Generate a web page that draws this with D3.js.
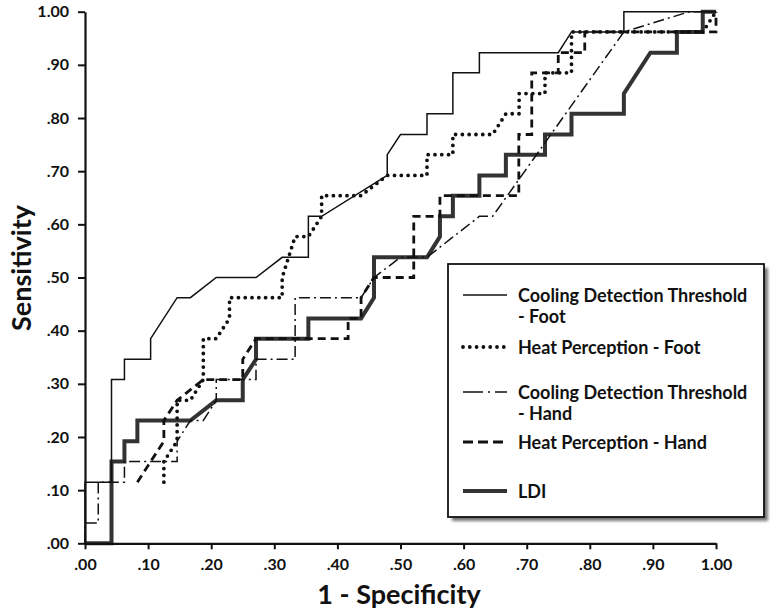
<!DOCTYPE html>
<html>
<head>
<meta charset="utf-8">
<script src="https://cdn.jsdelivr.net/npm/d3@7"></script>
<style>
  html, body { margin: 0; padding: 0; background: #fff; }
  svg { display: block; font-family: Lato, "Open Sans", sans-serif; font-weight: bold; }
</style>
</head>
<body>
<svg id="chart" width="776" height="616"></svg>
<script>
// ---- Data (1 - specificity, sensitivity) ----
const cdtFoot = [[0,0],[0,0.115],[0.042,0.115],[0.042,0.308],[0.0625,0.308],[0.0625,0.346],[0.104,0.346],[0.104,0.385],[0.146,0.462],[0.167,0.462],[0.208,0.5],[0.271,0.5],[0.3125,0.538],[0.354,0.538],[0.354,0.615],[0.375,0.615],[0.479,0.692],[0.479,0.731],[0.5,0.769],[0.542,0.769],[0.542,0.808],[0.583,0.808],[0.583,0.885],[0.625,0.885],[0.625,0.923],[0.75,0.923],[0.771,0.962],[0.854,0.962],[0.854,1],[1,1]];
const heatFoot = [[0.125,0.115],[0.125,0.154],[0.146,0.192],[0.146,0.269],[0.167,0.269],[0.1875,0.308],[0.1875,0.385],[0.208,0.385],[0.229,0.423],[0.229,0.462],[0.3125,0.462],[0.3125,0.5],[0.333,0.577],[0.354,0.577],[0.375,0.615],[0.375,0.654],[0.4375,0.654],[0.479,0.692],[0.542,0.692],[0.542,0.731],[0.583,0.731],[0.583,0.769],[0.646,0.769],[0.667,0.808],[0.688,0.808],[0.688,0.846],[0.729,0.846],[0.729,0.885],[0.771,0.885],[0.771,0.962],[0.979,0.962],[1,1]];
const cdtHand = [[0,0],[0,0.038],[0.021,0.038],[0.021,0.115],[0.0625,0.115],[0.0625,0.154],[0.146,0.154],[0.146,0.192],[0.167,0.231],[0.1875,0.231],[0.208,0.269],[0.208,0.308],[0.271,0.308],[0.271,0.346],[0.333,0.346],[0.333,0.462],[0.4375,0.462],[0.458,0.5],[0.5,0.538],[0.542,0.538],[0.625,0.615],[0.646,0.615],[0.854,0.962],[0.958,1],[1,1]];
const heatHand = [[0.083,0.115],[0.125,0.192],[0.125,0.231],[0.146,0.269],[0.1875,0.308],[0.25,0.308],[0.25,0.346],[0.271,0.385],[0.417,0.385],[0.417,0.423],[0.4375,0.423],[0.4375,0.462],[0.458,0.5],[0.521,0.5],[0.521,0.615],[0.5625,0.615],[0.5625,0.654],[0.6875,0.654],[0.6875,0.769],[0.708,0.769],[0.708,0.885],[0.75,0.885],[0.75,0.923],[0.792,0.923],[0.792,0.962],[1,0.962],[1,1]];
const ldi = [[0,0],[0.042,0],[0.042,0.154],[0.0625,0.154],[0.0625,0.192],[0.083,0.192],[0.083,0.231],[0.167,0.231],[0.208,0.269],[0.25,0.269],[0.25,0.308],[0.271,0.346],[0.271,0.385],[0.354,0.385],[0.354,0.423],[0.4375,0.423],[0.458,0.462],[0.458,0.538],[0.542,0.538],[0.5625,0.577],[0.5625,0.615],[0.583,0.615],[0.583,0.654],[0.625,0.654],[0.625,0.692],[0.667,0.692],[0.667,0.731],[0.729,0.731],[0.729,0.769],[0.771,0.769],[0.771,0.808],[0.854,0.808],[0.854,0.846],[0.896,0.923],[0.938,0.923],[0.938,0.962],[0.979,0.962],[0.979,1],[1,1]];

const seriesNames = ["Cooling Detection Threshold\n- Foot", "Heat Perception - Foot", "Cooling Detection Threshold\n- Hand", "Heat Perception - Hand", "LDI"];
const majorTicks = [0,0.1,0.2,0.3,0.4,0.5,0.6,0.7,0.8,0.9,1.0];
const majorLabels = [".00",".10",".20",".30",".40",".50",".60",".70",".80",".90","1.00"];
const minorTicks = [0.05,0.15,0.25,0.35,0.45,0.55,0.65,0.75,0.85,0.95];
const xTitle = "1 - Specificity";
const yTitle = "Sensitivity";

// ---- Styles ----
const styles = [
  {data: cdtFoot,  stroke: "#111", width: 1.5, dash: null, cap: "butt"},
  {data: heatFoot, stroke: "#111", width: 3.8, dash: "0,6.8", cap: "round"},
  {data: cdtHand,  stroke: "#111", width: 1.5, dash: "11,4,2,4", cap: "butt"},
  {data: heatHand, stroke: "#111", width: 2.8, dash: "8,5", cap: "butt"},
  {data: ldi,      stroke: "#333", width: 4,   dash: null, cap: "butt"}
];

const svg = d3.select("#chart");
const x = d3.scaleLinear().domain([0,1]).range([85,716]);
const y = d3.scaleLinear().domain([0,1]).range([543.3,11.7]);

// Curves (LDI first, underneath)
const line = d3.line().x(d => x(d[0])).y(d => y(d[1]));
const order = [4,0,2,3,1];
order.forEach(i => {
  const s = styles[i];
  svg.append("path").datum(s.data)
    .attr("d", line).attr("fill","none")
    .attr("stroke", s.stroke).attr("stroke-width", s.width)
    .attr("stroke-dasharray", s.dash).attr("stroke-linecap", s.cap)
    .attr("stroke-linejoin","miter");
});

// Axes
const fmt = d => majorLabels[majorTicks.findIndex(t => Math.abs(t-d) < 1e-9)];
const gx = svg.append("g").attr("transform", `translate(0,${y(0)})`);
gx.call(d3.axisBottom(x).tickValues(minorTicks).tickSize(3.5).tickSizeOuter(0).tickFormat(""));
gx.call(d3.axisBottom(x).tickValues(majorTicks).tickSize(6).tickSizeOuter(0).tickPadding(9).tickFormat(fmt));
const gy = svg.append("g").attr("transform", `translate(${x(0)},0)`);
gy.call(d3.axisLeft(y).tickValues(minorTicks).tickSize(4).tickSizeOuter(0).tickFormat(""));
gy.call(d3.axisLeft(y).tickValues(majorTicks).tickSize(7).tickSizeOuter(0).tickPadding(9).tickFormat(fmt));
svg.selectAll(".domain").attr("stroke","#111").attr("stroke-width",2.2);
svg.selectAll(".tick line").attr("stroke","#111").attr("stroke-width",2);
svg.selectAll(".tick text").attr("fill","#111").style("font-size","16px").style("font-weight","bold").style("font-family","Lato, sans-serif");

// Axis titles
svg.append("text").attr("x", 399).attr("y", 604).attr("text-anchor","middle")
  .style("font-size","27px").attr("fill","#111").text(xTitle);
svg.append("text").attr("transform", `translate(31,268) rotate(-90)`)
  .attr("text-anchor","middle").style("font-size","27px").attr("fill","#111").text(yTitle);

// Legend
const defs = svg.append("defs");
defs.append("filter").attr("id","blur").append("feGaussianBlur").attr("stdDeviation",1.6);
const lg = {x0: 448, y0: 264, w: 316, h: 253};
svg.append("rect").attr("x", lg.x0+4).attr("y", lg.y0+4).attr("width", lg.w).attr("height", lg.h)
  .attr("fill","#777").attr("filter","url(#blur)");
svg.append("rect").attr("x", lg.x0).attr("y", lg.y0).attr("width", lg.w).attr("height", lg.h)
  .attr("fill","#fff").attr("stroke","#111").attr("stroke-width",1.8);
const rowY = [295, 347, 392, 442, 491];
seriesNames.forEach((name, i) => {
  const s = styles[i];
  svg.append("line").attr("x1", 463).attr("x2", 507).attr("y1", rowY[i]).attr("y2", rowY[i])
    .attr("stroke", s.stroke).attr("stroke-width", s.width)
    .attr("stroke-dasharray", i===2 ? "20,5,2,5" : (i===3 ? "10,5" : s.dash))
    .attr("stroke-linecap", s.cap);
  const lines = name.split("\n");
  lines.forEach((t, j) => {
    svg.append("text").attr("x", 518).attr("y", rowY[i] + 6.5 + j*21.5)
      .style("font-size","18px").attr("fill","#111").text(t);
  });
});
</script>
</body>
</html>
